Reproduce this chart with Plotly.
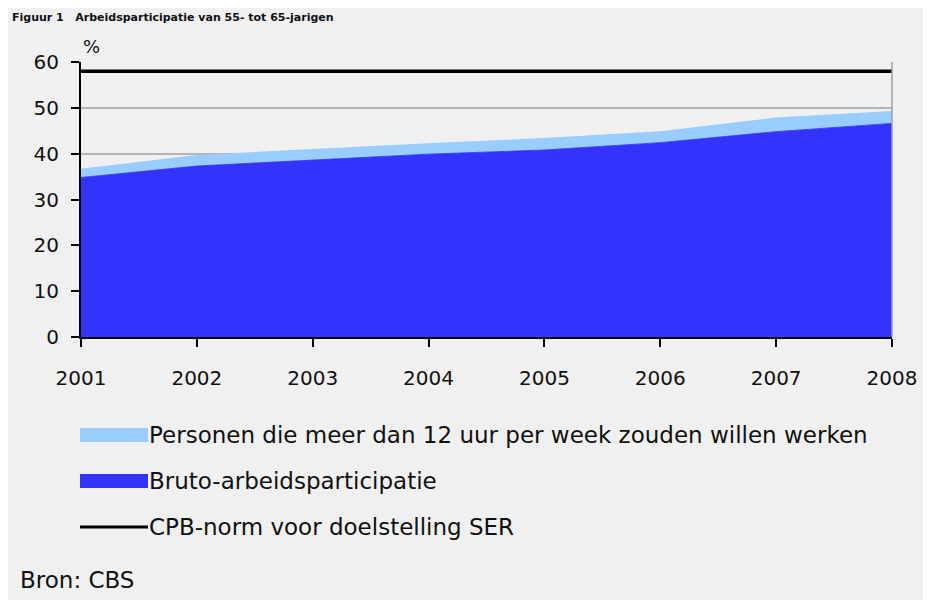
import plotly.graph_objects as go

# ---- data ----
years = [2001, 2002, 2003, 2004, 2005, 2006, 2007, 2008]
tick_labels = ["2001", "2002", "2003", "2004", "2005", "2006", "2007", "2008"]
bruto = [34.8, 37.3, 38.6, 39.9, 40.8, 42.4, 44.8, 46.6]
extra = [1.9, 2.4, 2.4, 2.4, 2.6, 2.5, 3.1, 2.7]
cpb_norm = [58, 58, 58, 58, 58, 58, 58, 58]
y_ticks = [0, 10, 20, 30, 40, 50, 60]

name_extra = "Personen die meer dan 12 uur per week zouden willen werken"
name_bruto = "Bruto-arbeidsparticipatie"
name_norm = "CPB-norm voor doelstelling SER"
title_text = "Figuur 1   Arbeidsparticipatie van 55- tot 65-jarigen"
source_text = "Bron: CBS"

DARK = "#3333ff"
LIGHT = "#99ccff"
BG = "#f0f0f0"
FONT = "DejaVu Sans, Verdana, sans-serif"
TXT = "#111111"

OFF = 8  # page body margin
W, H = 923, 592
L, T = 81 - OFF, 62 - OFF
PW, PH = 811, 275
R, B = W - L - PW, H - T - PH


def px(x):  # page pixel -> paper
    return (x - OFF - L) / PW


def py(y):
    return (T + PH - (y - OFF)) / PH


fig = go.Figure()
fig.add_trace(go.Scatter(x=years, y=bruto, stackgroup="s", mode="lines",
                         line=dict(width=0.8, color="#2b2bdd"), fillcolor=DARK,
                         name=name_bruto, showlegend=False))
fig.add_trace(go.Scatter(x=years, y=extra, stackgroup="s", mode="lines",
                         line=dict(width=0), fillcolor=LIGHT,
                         name=name_extra, showlegend=False))
fig.add_trace(go.Scatter(x=years, y=cpb_norm, mode="lines",
                         line=dict(width=3.5, color="black"),
                         name=name_norm, showlegend=False))

shapes = [
    dict(type="line", xref="paper", yref="paper", x0=1, x1=1, y0=0, y1=1,
         line=dict(color="#a0a0a0", width=1.5)),
]
annotations = [
    dict(text="%", xref="paper", yref="paper", x=px(81), y=py(59), xanchor="left",
         yanchor="bottom", showarrow=False, font=dict(size=18, color=TXT, family=FONT)),
    dict(text="<b>" + title_text + "</b>", xref="paper", yref="paper", x=px(10), y=py(9),
         xanchor="left", yanchor="top", showarrow=False,
         font=dict(size=11, color=TXT, family=FONT)),
    dict(text=source_text, xref="paper", yref="paper", x=px(18), y=py(580),
         xanchor="left", yanchor="middle", showarrow=False,
         font=dict(size=23, color=TXT, family=FONT)),
]

legend_rows = [(name_extra, LIGHT, 435, "rect"), (name_bruto, DARK, 481, "rect"),
               (name_norm, "black", 527, "line")]
for text, col, yc, kind in legend_rows:
    if kind == "rect":
        shapes.append(dict(type="rect", xref="paper", yref="paper", x0=px(80), x1=px(148),
                           y0=py(yc + 7), y1=py(yc - 7), fillcolor=col, line=dict(width=0)))
    else:
        shapes.append(dict(type="line", xref="paper", yref="paper", x0=px(80), x1=px(148),
                           y0=py(yc), y1=py(yc), line=dict(color=col, width=3)))
    annotations.append(dict(text=text, xref="paper", yref="paper", x=px(147), y=py(yc),
                            xanchor="left", yanchor="middle", showarrow=False,
                            font=dict(size=23, color=TXT, family=FONT)))

fig.update_layout(
    width=W, height=H,
    margin=dict(l=L, r=R, t=T, b=B),
    paper_bgcolor=BG, plot_bgcolor=BG,
    font=dict(family=FONT, size=20, color=TXT),
    showlegend=False,
    shapes=shapes, annotations=annotations,
    xaxis=dict(range=[2001, 2008], tickvals=years, ticktext=tick_labels,
               showgrid=False, zeroline=False, showline=True, linecolor="black",
               linewidth=2, ticks="outside", ticklen=8, tickwidth=2, tickcolor="black",
               ticklabelstandoff=14, tickfont=dict(size=20, color=TXT)),
    yaxis=dict(range=[0, 60], tickvals=y_ticks, showgrid=True, gridcolor="#b4b4b4",
               gridwidth=1.5, zeroline=False, showline=True, linecolor="black",
               linewidth=2, ticks="outside", ticklen=8, tickwidth=2, tickcolor="black",
               ticklabelstandoff=8, tickfont=dict(size=20, color=TXT)),
)

fig.write_html("out.html")
